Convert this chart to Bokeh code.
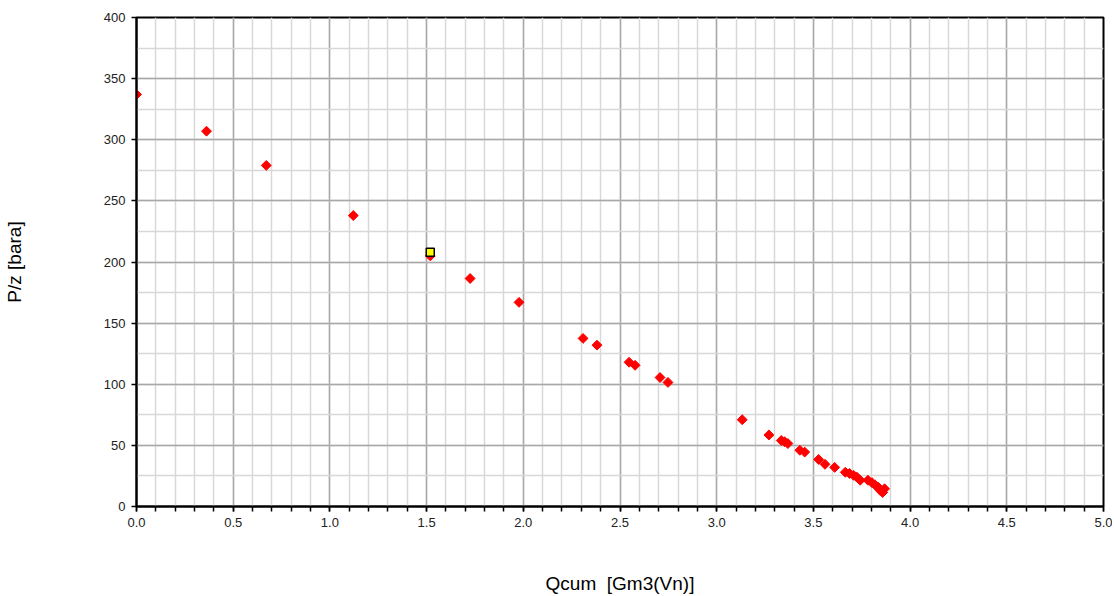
import math
from bokeh.plotting import figure
from bokeh.models import SingleIntervalTicker, Range1d, ColumnDataSource, CustomJSTickFormatter
from bokeh.embed import file_html
from bokeh.resources import INLINE

qcum = [0.0, 0.362, 0.671, 1.121, 1.519, 1.725, 1.978, 2.309, 2.381, 2.547, 2.578,
        2.707, 2.748, 3.132, 3.270, 3.334, 3.351, 3.368, 3.430, 3.455, 3.527, 3.560,
        3.610, 3.665, 3.687, 3.708, 3.725, 3.742, 3.782, 3.803, 3.820, 3.837, 3.846,
        3.858, 3.868]
pz = [337, 307, 279, 238, 205, 186.5, 167, 137.5, 132, 118, 115.5,
      105.5, 101.5, 71, 58.5, 54, 53, 51.5, 46, 44.5, 38.5, 34.5,
      32, 28, 27, 25.5, 24, 21.5, 21.5, 19.5, 17.5, 15.5, 13,
      11.5, 14.5]

sel_q = [1.519]
sel_pz = [208]

p = figure(width=1112, height=596, output_backend="svg", toolbar_location=None,
           x_range=Range1d(0, 5), y_range=Range1d(0, 400),
           min_border_left=135, min_border_top=17, min_border_right=9, min_border_bottom=90)

p.xaxis.ticker = SingleIntervalTicker(interval=0.5, num_minor_ticks=5)
p.yaxis.ticker = SingleIntervalTicker(interval=50, num_minor_ticks=2)

font = "Liberation Sans"
for ax in (p.xaxis[0], p.yaxis[0]):
    ax.axis_line_color = "black"
    ax.axis_line_width = 2
    ax.major_tick_line_color = "black"
    ax.major_tick_line_width = 1.5
    ax.major_tick_out = 5
    ax.major_tick_in = 0
    ax.major_label_text_font = font
    ax.major_label_text_font_size = "13px"
    ax.major_label_text_color = "#222222"
    ax.axis_label_text_font = font
    ax.axis_label_text_font_size = "19px"
    ax.axis_label_text_font_style = "normal"
    ax.axis_label_text_color = "black"

p.xaxis.minor_tick_line_color = "black"
p.xaxis.minor_tick_line_width = 1.5
p.xaxis.minor_tick_out = 5
p.xaxis.minor_tick_in = 0
p.yaxis.minor_tick_line_color = None
p.xaxis.major_label_standoff = 6
p.yaxis.major_label_standoff = 6

p.xaxis.formatter = CustomJSTickFormatter(code="return tick.toFixed(1);")
p.yaxis.formatter = CustomJSTickFormatter(code="return tick.toFixed(0);")

p.xaxis.axis_label = "Qcum\u00a0\u00a0[Gm3(Vn)]"
p.yaxis.axis_label = "P/z [bara]"
p.xaxis.axis_label_standoff = 43
p.yaxis.axis_label_standoff = 76

p.outline_line_color = "black"
p.outline_line_width = 2
p.outline_line_alpha = 1

p.xgrid.grid_line_color = "#a8a8a8"
p.xgrid.grid_line_width = 1.5
p.ygrid.grid_line_color = "#a8a8a8"
p.ygrid.grid_line_width = 1.5
p.xgrid.minor_grid_line_color = "#d8d8d8"
p.xgrid.minor_grid_line_width = 1.5
p.ygrid.minor_grid_line_color = "#d8d8d8"
p.ygrid.minor_grid_line_width = 1.5

src = ColumnDataSource(dict(x=qcum, y=pz))
p.scatter("x", "y", source=src, marker="square", size=7, angle=math.pi / 4,
          fill_color="#ff0000", line_color="#ff0000", line_width=1)

p.scatter(sel_q, sel_pz, marker="square", size=8, fill_color="#ffff00",
          line_color="black", line_width=1.5)

open("out.html", "w").write(file_html(p, INLINE))
